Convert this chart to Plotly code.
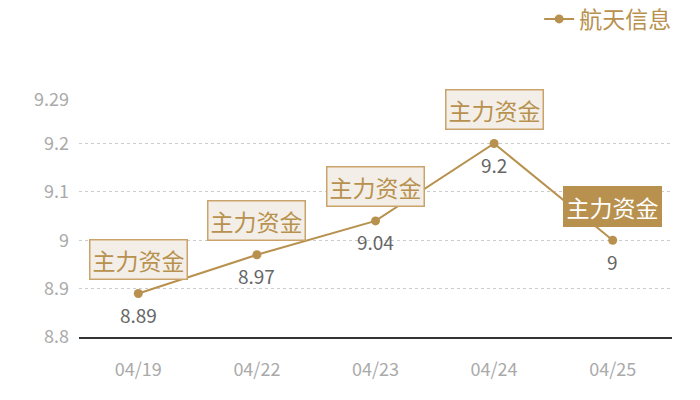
import plotly.graph_objects as go

dates = ["04/19", "04/22", "04/23", "04/24", "04/25"]
prices = [8.89, 8.97, 9.04, 9.2, 9.0]
price_labels = ["8.89", "8.97", "9.04", "9.2", "9"]
tag_text = "主力资金"
tag_filled = [False, False, False, False, True]
y_ticks = [8.8, 8.9, 9.0, 9.1, 9.2, 9.29]
y_tick_text = ["8.8", "8.9", "9", "9.1", "9.2", "9.29"]

gold = "#b8914e"
font_name = "Noto Sans CJK SC"

fig = go.Figure()
fig.add_trace(go.Scatter(
    x=dates, y=prices, name="航天信息",
    mode="lines+markers",
    line=dict(color=gold, width=2),
    marker=dict(color=gold, size=9),
))

# value labels under the points
for d, p, lab in zip(dates, prices, price_labels):
    fig.add_annotation(x=d, y=p, text=lab, showarrow=False, yshift=-21,
                       font=dict(family=font_name, size=19, color="#666666"))

# the boxed tags above the points
for d, p, filled in zip(dates, prices, tag_filled):
    fig.add_annotation(
        x=d, y=p, text=tag_text, showarrow=False, yshift=34,
        font=dict(family=font_name, size=23, color="#ffffff" if filled else gold),
        bgcolor=gold if filled else "#f3efe8",
        bordercolor="#c9a36a" if not filled else gold,
        borderwidth=1.5, borderpad=2,
    )

fig.update_layout(
    width=700, height=400,
    margin=dict(l=79, r=28, t=100, b=63, autoexpand=False),
    paper_bgcolor="white", plot_bgcolor="white",
    font=dict(family=font_name),
    showlegend=True,
    legend=dict(x=1.007, y=1.342, xanchor="right", yanchor="middle",
                font=dict(size=23, color=gold), itemwidth=30),
    xaxis=dict(range=[-0.5, 4.5], showgrid=False, showline=True,
               linecolor="#333333", linewidth=1.5,
               ticks="", tickfont=dict(size=18, color="#aaaaaa"), ticklabelstandoff=16),
    yaxis=dict(range=[8.8, 9.29], tickvals=y_ticks, ticktext=y_tick_text,
               showgrid=True, gridcolor="#cccccc", griddash="dot", gridwidth=1,
               zeroline=False, showline=False, ticks="",
               tickfont=dict(size=18, color="#aaaaaa"), ticklabelstandoff=9),
)

# drop the default 8px body margin so the 700x400 figure fits the window
fig.write_html("out.html", config={"displayModeBar": False},
               post_script="document.body.style.margin='0';")
